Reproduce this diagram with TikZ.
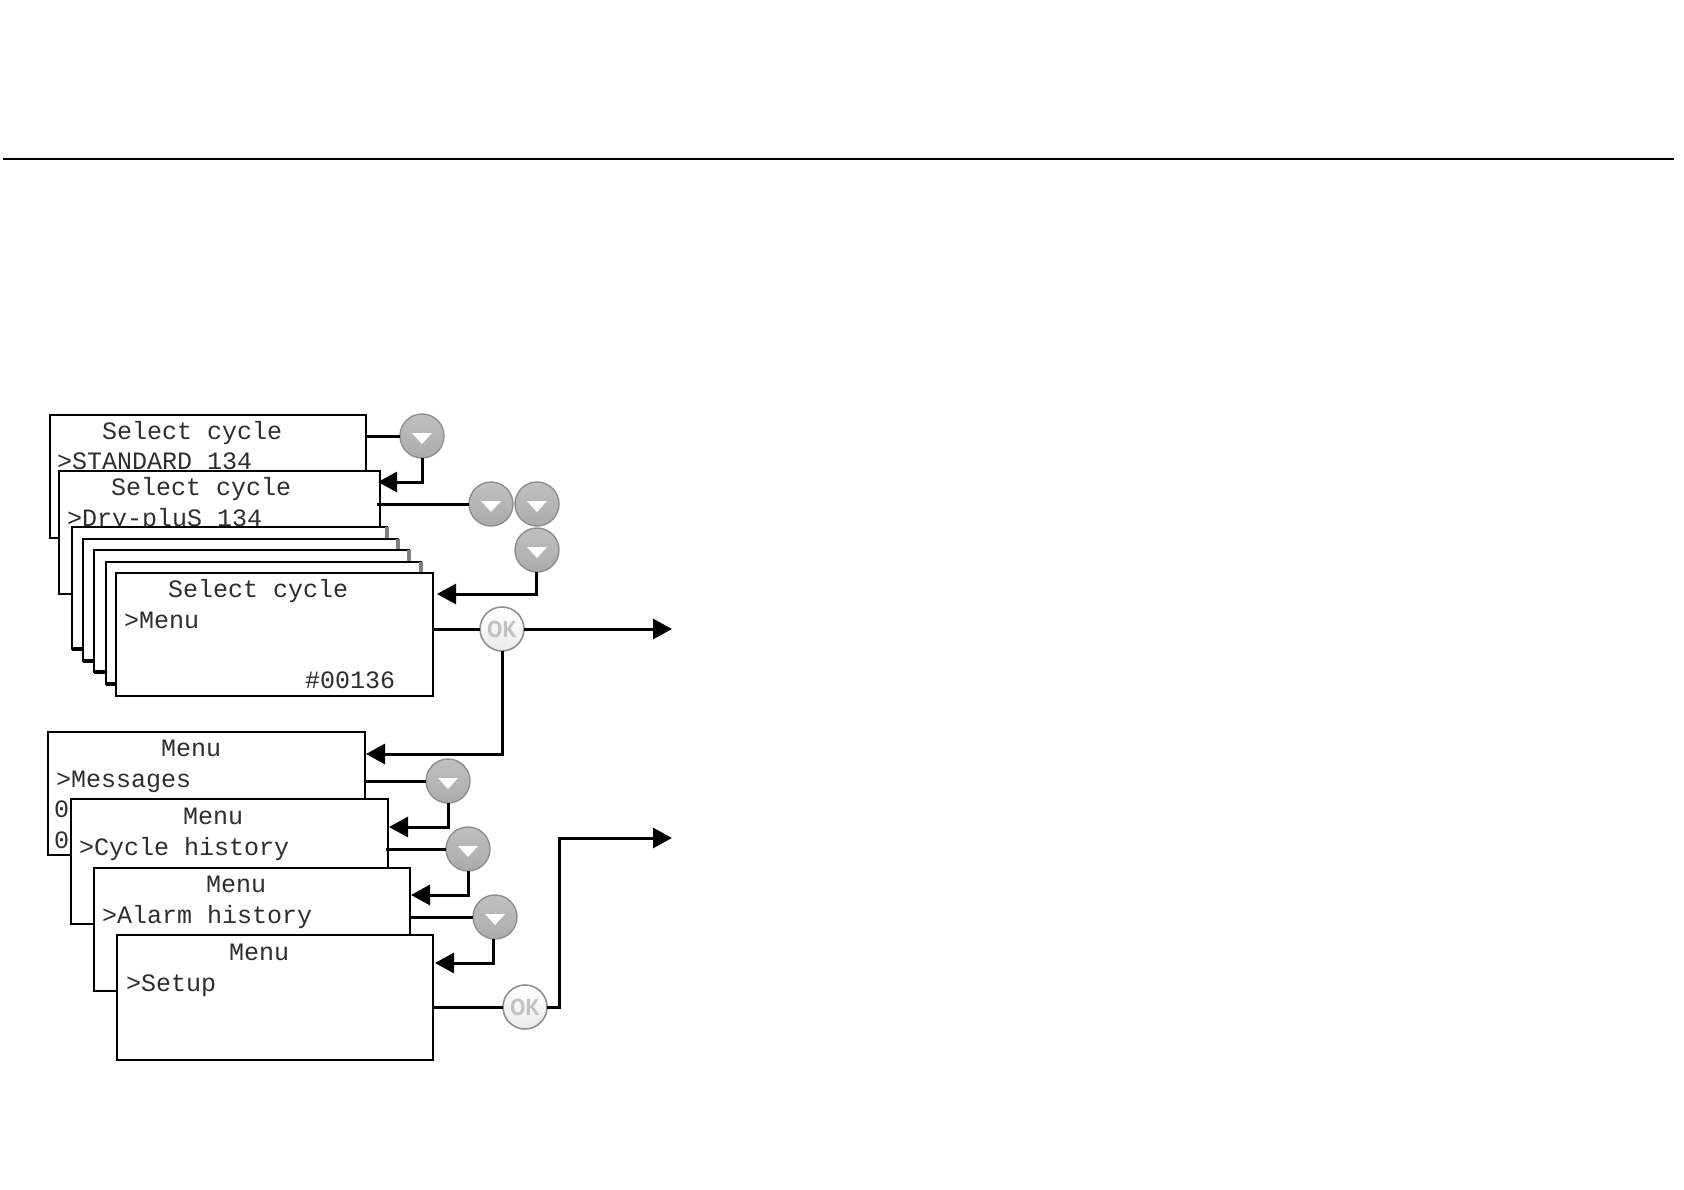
\documentclass[tikz,border=0pt]{standalone}
\usepackage{fontspec}
\usetikzlibrary{arrows.meta,calc}
\setmainfont{Liberation Sans}
\newfontfamily\lcdfont{Liberation Mono}
\newfontfamily\okfont{PT Sans}
\definecolor{lcdtext}{HTML}{2E2E2E}
\definecolor{btnedge}{HTML}{8E8E8E}
\definecolor{btntop}{HTML}{C0C0C0}
\definecolor{btnbottom}{HTML}{ABABAB}
\definecolor{oktext}{HTML}{C2C2C2}
\tikzset{
  lcd/.style={draw=black,fill=white,line width=1.5pt,inner sep=0pt,outer sep=0pt,anchor=north west},
  card/.style={lcd,line width=1.7pt},
  cardright/.style={draw=black!50,line width=3.5pt},
  cardbottom/.style={draw=black,line width=3.2pt},
  lcdline/.style={inner sep=0pt,outer sep=0pt,anchor=base west,text=lcdtext,font=\lcdfont\fontsize{25}{25}\selectfont},
  wire/.style={draw=black,line width=3pt,miter limit=10},
  arrowwire/.style={wire,-{Triangle[length=19pt,width=20pt]}},
  downbtn/.style={circle,minimum size=44pt,inner sep=0pt,outer sep=0pt,draw=btnedge,line width=1.4pt,
    top color=btntop,bottom color=btnbottom,
    path picture={\fill[white] ([shift={(-10pt,3pt)}]path picture bounding box.center) -- ([shift={(10pt,3pt)}]path picture bounding box.center) -- ([shift={(0pt,-8pt)}]path picture bounding box.center) -- cycle;}},
  okbtn/.style={circle,minimum size=44pt,inner sep=0pt,outer sep=0pt,draw=btnedge,line width=1.6pt,
    top color=white,bottom color=white!92!black,text=oktext,font=\okfont\bfseries\fontsize{23}{23}\selectfont},
}
\begin{document}
\begin{tikzpicture}[x=1pt,y=-1pt]
\useasboundingbox (0,0) rectangle (1684,1190);
\coordinate (ruleL) at (3,159);
\coordinate (ruleR) at (1674,159);
\draw[draw=black,line width=2.4pt] (ruleL) -- (ruleR);

% Select cycle stack
\node[lcd,minimum width=316pt,minimum height=123pt] (A) at (50,415) {};
\node[lcdline] (A1) at (102,439) {Select cycle};
\node[lcdline] (A2) at (57,469) {>STANDARD 134};
\node[lcd,minimum width=321pt,minimum height=123pt] (B) at (59,471) {};
\node[lcdline] (B1) at (111,495) {Select cycle};
\node[lcdline] (B2) at (67,526) {>Dry-pluS 134};
\foreach \n/\x/\y in {C1/72/527,C2/83/539,C3/94/550,C4/106/562}{
  \node[card,minimum width=315pt,minimum height=122pt] (\n) at (\x,\y) {};
  \draw[cardright] (\n.north east) -- (\n.south east);
  \draw[cardbottom] (\n.south west) -- (\n.south east);
}
\node[lcd,minimum width=317pt,minimum height=123pt] (D) at (116,573) {};
\node[lcdline] (D1) at (168,597) {Select cycle};
\node[lcdline] (D2) at (124,628) {>Menu};
\node[lcdline] (D3) at (305,688) {\#00136};

% Menu stack
\node[lcd,minimum width=317pt,minimum height=123pt] (M1) at (48,732) {};
\node[lcdline] (M11) at (161,756) {Menu};
\node[lcdline] (M12) at (56,787) {>Messages};
\node[lcdline] (M13) at (54,817) {0};
\node[lcdline] (M14) at (54,848) {0};
\node[lcd,minimum width=317pt,minimum height=125pt] (M2) at (71,799) {};
\node[lcdline] (M21) at (183,824) {Menu};
\node[lcdline] (M22) at (79,855) {>Cycle history};
\node[lcd,minimum width=316pt,minimum height=123pt] (M3) at (94,868) {};
\node[lcdline] (M31) at (206,892) {Menu};
\node[lcdline] (M32) at (102,923) {>Alarm history};
\node[lcd,minimum width=316pt,minimum height=125pt] (M4) at (117,935) {};
\node[lcdline] (M41) at (229,960) {Menu};
\node[lcdline] (M42) at (126,991) {>Setup};

% Buttons
\node[downbtn] (b1) at (422,436) {};
\node[downbtn] (b2) at (491,504) {};
\node[downbtn] (b3) at (537,504) {};
\node[downbtn] (b4) at (537,550) {};
\node[okbtn] (ok1) at (502,629) {OK};
\node[downbtn] (b5) at (448,781) {};
\node[downbtn] (b6) at (468,849) {};
\node[downbtn] (b7) at (495,917) {};
\node[okbtn] (ok2) at (525,1007) {OK};
\coordinate (out1) at (672,629);
\coordinate (out2) at (672,838);

% Connectors
\draw[wire] (b1 -| A.east) -- (b1);
\draw[arrowwire] (b1.south) |- ([shift={(-2pt,-11pt)}]B.north east);
\draw[wire] ([xshift=-3pt]b2 -| B.east) -- (b2);
\draw[arrowwire] ([xshift=-1pt]b4.south) |- ([shift={(4pt,-21pt)}]D.north east);
\draw[wire] (ok1 -| D.east) -- (ok1);
\draw[arrowwire] (ok1) -- (out1);
\draw[arrowwire] (ok1.south) |- ([shift={(1pt,-22pt)}]M1.north east);
\draw[wire] (b5 -| M1.east) -- (b5);
\draw[arrowwire] (b5.south) |- ([shift={(1pt,-28pt)}]M2.north east);
\draw[wire] ([xshift=-2pt]b6 -| M2.east) -- (b6);
\draw[arrowwire] (b6.south) |- ([shift={(1pt,-27pt)}]M3.north east);
\draw[wire] (b7 -| M3.east) -- (b7);
\draw[arrowwire] ([xshift=-2pt]b7.south) |- ([shift={(2pt,-28pt)}]M4.north east);
\draw[wire] (ok2 -| M4.east) -- (ok2);
\draw[arrowwire] (ok2.east) -- ++(12pt,0pt) |- (out2);
\end{tikzpicture}
\end{document}
